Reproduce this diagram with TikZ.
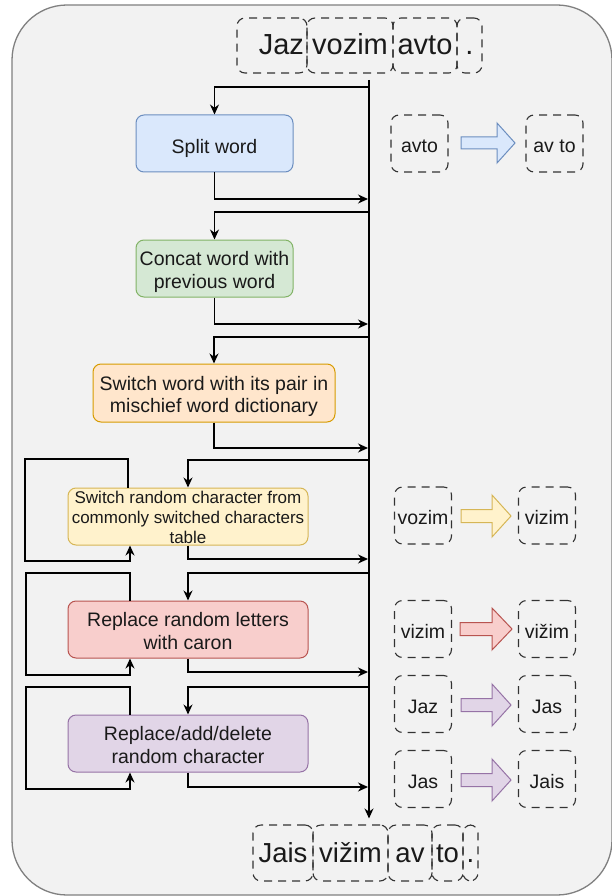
\documentclass[tikz,border=0pt]{standalone}
\usepackage{fontspec}
\setmainfont{Liberation Sans}
\usetikzlibrary{arrows.meta}
\definecolor{bgfill}{HTML}{F2F2F2}
\definecolor{bgdraw}{HTML}{808080}
\definecolor{bluef}{HTML}{DAE8FC}\definecolor{blued}{HTML}{6C8EBF}
\definecolor{greenf}{HTML}{D5E8D4}\definecolor{greend}{HTML}{82B366}
\definecolor{orangef}{HTML}{FFE6CC}\definecolor{oranged}{HTML}{D79B00}
\definecolor{yellowf}{HTML}{FFF2CC}\definecolor{yellowd}{HTML}{D6B656}
\definecolor{redf}{HTML}{F8CECC}\definecolor{redd}{HTML}{B85450}
\definecolor{purplef}{HTML}{E1D5E7}\definecolor{purpled}{HTML}{9673A6}
\definecolor{txt}{HTML}{1A1A1A}
\tikzset{
  proc/.style={draw, line width=1pt, rounded corners=8pt, align=center, text=txt,
    inner sep=0pt, text height=20pt, text depth=0pt, font=\fontsize{19.5}{22.5}\selectfont},
  twoline/.style={text height=39pt},
  wbox/.style={draw=black!80, line width=1.1pt, dash pattern=on 8pt off 6pt,
    rounded corners=8pt, inner sep=0pt, minimum height=57pt, text=txt},
  topw/.style={wbox, minimum height=55pt, text height=19pt, text depth=0pt, font=\fontsize{29}{34}\selectfont},
  botw/.style={wbox, minimum height=56pt, text height=18pt, text depth=0pt, font=\fontsize{27.5}{30}\selectfont},
  exw/.style={wbox, minimum width=57pt, text height=18pt, text depth=0pt, font=\fontsize{19.5}{23.5}\selectfont},
  conn/.style={line width=1.3pt, black},
  arr/.style={conn, -{Stealth[length=10pt,width=9pt]}},
  barrow/.style={line width=1pt},
}
\begin{document}
\begin{tikzpicture}[x=1pt,y=-1pt]
\useasboundingbox (0,0) rectangle (611,896);
\fill[white] (0,0) rectangle (611,896);
\draw[bgdraw, fill=bgfill, line width=1.3pt, rounded corners=55pt] (12,5) rectangle (612,895);

% top sentence
\node[topw, minimum width=70pt, text width=64pt, align=right] (t1) at (272,45.5) {Jaz};
\node[topw, minimum width=86pt] (t2) at (350,45.5) {vozim};
\node[topw, minimum width=64pt] (t3) at (425,45.5) {avto};
\node[topw, minimum width=25pt] (t4) at (469.5,45.5) {.};

% bottom sentence
\node[botw, minimum width=60pt] (b1) at (283,853) {Jais};
\node[botw, minimum width=75pt] (b2) at (350.5,853) {vižim};
\node[botw, minimum width=44pt] (b3) at (410,853) {av};
\node[botw, minimum width=31pt] (b4) at (447.5,853) {to};
\node[botw, minimum width=15pt] (b5) at (470.5,853) {.};

% process boxes
\node[proc, fill=bluef, draw=blued, minimum width=157pt, minimum height=57pt] (split) at (214.5,143.5) {Split word};
\node[proc, twoline, fill=greenf, draw=greend, minimum width=157pt, minimum height=57pt] (concat) at (214.5,268.5) {Concat word with\\previous word};
\node[proc, twoline, fill=orangef, draw=oranged, minimum width=242pt, minimum height=58pt] (dict) at (214,393) {Switch word with its pair in\\mischief word dictionary};
\node[proc, fill=yellowf, draw=yellowd, minimum width=240pt, minimum height=57pt, text height=53pt, font=\fontsize{17}{20}\selectfont] (sr) at (188,516.5) {Switch random character from\\commonly switched characters\\table};
\node[proc, twoline, fill=redf, draw=redd, minimum width=240pt, minimum height=57pt] (caron) at (188,629.5) {Replace random letters\\with caron};
\node[proc, twoline, fill=purplef, draw=purpled, minimum width=240pt, minimum height=57pt] (rad) at (188,743.5) {Replace/add/delete\\random character};

% main line
\coordinate (top) at (369,80);
\draw[arr, shorten >=6pt] (top) -- (b2.north -| top);

% inputs
\coordinate (i1) at (369,87);
\coordinate (i2) at (369,212);
\coordinate (i3) at (369,337);
\coordinate (i4) at (369,460);
\coordinate (i5) at (369,573);
\coordinate (i6) at (369,687);
\draw[arr] (i1) -| (split.north);
\draw[arr] (i2) -| (concat.north);
\draw[arr] (i3) -| (dict.north);
\draw[arr] (i4) -| (sr.north);
\draw[arr] (i5) -| (caron.north);
\draw[arr] (i6) -| (rad.north);

% outputs
\coordinate (o1) at (368,199);
\coordinate (o2) at (368,324);
\coordinate (o3) at (368,448);
\coordinate (o4) at (368,559);
\coordinate (o5) at (368,672);
\coordinate (o6) at (368,787);
\draw[arr] (split.south) |- (o1);
\draw[arr] (concat.south) |- (o2);
\draw[arr] (dict.south) |- (o3);
\draw[arr] (sr.south) |- (o4);
\draw[arr] (caron.south) |- (o5);
\draw[arr] (rad.south) |- (o6);

% self loops
\coordinate (la1) at (25,459); \coordinate (lb1) at (25,561);
\coordinate (la2) at (26,573); \coordinate (lb2) at (26,675);
\coordinate (la3) at (26,687); \coordinate (lb3) at (26,789);
\draw[arr] ([xshift=-60pt]sr.north) |- (la1) -- (lb1) -| ([xshift=-58pt]sr.south);
\draw[arr] ([xshift=-58pt]caron.north) |- (la2) -- (lb2) -| ([xshift=-58pt]caron.south);
\draw[arr] ([xshift=-58pt]rad.north) |- (la3) -- (lb3) -| ([xshift=-58pt]rad.south);

% examples
\node[exw] (e1a) at (419.5,143.5) {avto};
\node[exw] (e1b) at (554.5,143.5) {av to};
\node[exw] (e2a) at (423,515.5) {vozim};
\node[exw] (e2b) at (547,515.5) {vizim};
\node[exw] (e3a) at (423,629) {vizim};
\node[exw] (e3b) at (547,629) {vižim};
\node[exw] (e4a) at (423,704) {Jaz};
\node[exw] (e4b) at (547,704) {Jas};
\node[exw] (e5a) at (423,779) {Jas};
\node[exw] (e5b) at (547,779) {Jais};

% block arrows
\draw[barrow, fill=bluef, draw=blued] (461,137) -- (497,137) -- (497,123) -- (515,143) -- (497,163) -- (497,149) -- (461,149) -- cycle;
\draw[barrow, fill=yellowf, draw=yellowd] (461,509.5) -- (492,509.5) -- (492,495) -- (511,516) -- (492,537) -- (492,522.5) -- (461,522.5) -- cycle;
\draw[barrow, fill=redf, draw=redd] (460,622.5) -- (492,622.5) -- (492,608) -- (512,629) -- (492,650) -- (492,635.5) -- (460,635.5) -- cycle;
\draw[barrow, fill=purplef, draw=purpled] (461,698.5) -- (492,698.5) -- (492,684) -- (511,705) -- (492,726) -- (492,711.5) -- (461,711.5) -- cycle;
\draw[barrow, fill=purplef, draw=purpled] (461,773.5) -- (492,773.5) -- (492,759) -- (511,780) -- (492,801) -- (492,786.5) -- (461,786.5) -- cycle;
\end{tikzpicture}
\end{document}
